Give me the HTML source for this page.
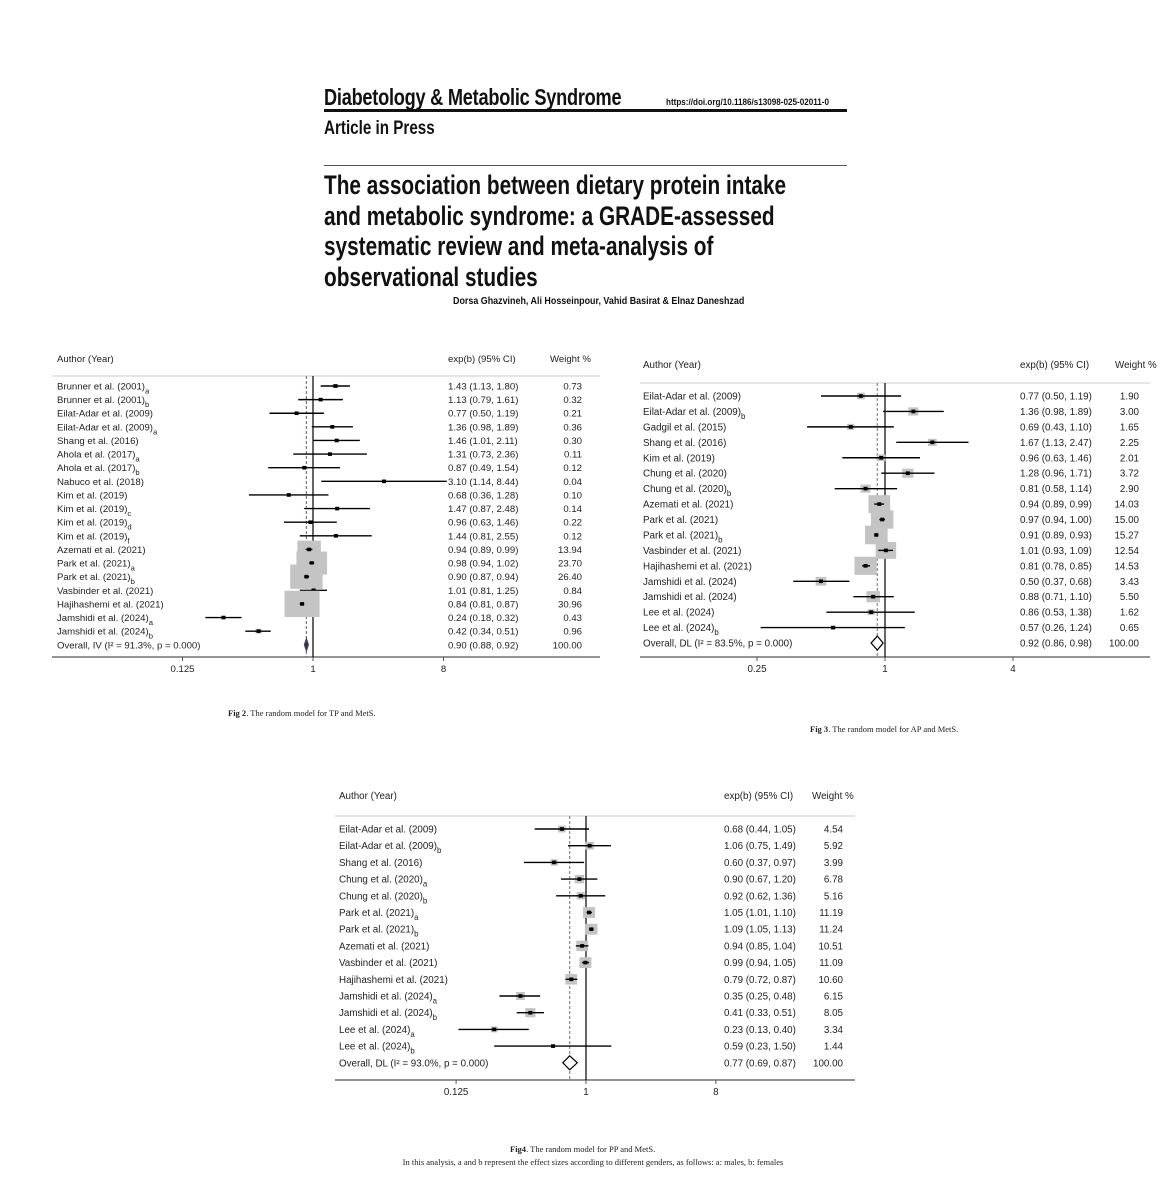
<!DOCTYPE html>
<html><head><meta charset="utf-8">
<style>
html,body{margin:0;padding:0;background:#fff;}
body{width:1171px;height:1200px;position:relative;overflow:hidden;font-family:"Liberation Sans",sans-serif;}
.h{position:absolute;white-space:nowrap;font-weight:bold;color:#111;transform-origin:0 0;}
svg{position:absolute;left:0;top:0;}
</style></head><body>
<div class="h" style="left:324px;top:84px;font-size:23px;transform:scaleX(0.79);letter-spacing:-0.3px;">Diabetology &amp; Metabolic Syndrome</div>
<div class="h" style="left:666px;top:97px;font-size:9px;transform:scaleX(0.9);">https://doi.org/10.1186/s13098-025-02011-0</div>
<div style="position:absolute;left:324px;top:109px;width:523px;height:3px;background:#111;"></div>
<div class="h" style="left:324px;top:118px;font-size:19px;transform:scaleX(0.8);">Article in Press</div>
<div style="position:absolute;left:324px;top:165px;width:523px;height:1px;background:#555;"></div>
<div class="h" style="left:324px;top:170px;font-size:27px;line-height:30.7px;transform:scaleX(0.77);">The association between dietary protein intake<br>and metabolic syndrome: a GRADE-assessed<br>systematic review and meta-analysis of<br>observational studies</div>
<div class="h" style="left:453px;top:295px;font-size:10.5px;transform:scaleX(0.85);">Dorsa Ghazvineh, Ali Hosseinpour, Vahid Basirat &amp; Elnaz Daneshzad</div>
<svg id="s" width="1171" height="1200" xmlns="http://www.w3.org/2000/svg" font-family="Liberation Sans, sans-serif"></svg>
<script>
var NS="http://www.w3.org/2000/svg",S=document.getElementById("s");
function el(t,a,txt){var e=document.createElementNS(NS,t);for(var k in a)e.setAttribute(k,a[k]);if(txt!==undefined)e.textContent=txt;S.appendChild(e);return e;}
function L(x1,y1,x2,y2,c,w,d){var a={x1:x1,y1:y1,x2:x2,y2:y2,stroke:c||"#000","stroke-width":w||1};if(d)a["stroke-dasharray"]=d;el("line",a);}
function T(x,y,s,fs,anc,extra){var a={x:x,y:y,"font-size":fs,fill:"#222"};if(anc)a["text-anchor"]=anc;for(var k in extra)a[k]=extra[k];return el("text",a,s);}
function plot(c){
 T(c.lx,c.hy,"Author (Year)",c.fs);T(c.cix,c.hy,c.cih,c.fs);T(c.wh,c.hy,"Weight %",c.fs);
 L(c.x1,c.top,c.x2,c.top,"#ddd",1.5);L(c.x1,c.ax,c.x2,c.ax,"#555",1.2);
 var X=function(v){return c.cx+c.u*Math.log2(v);};
 L(c.cx,c.top,c.cx,c.ax,"#000",1.2);
 var ov=c.rows[c.rows.length-1];var oe=parseFloat(ov[2]);
 L(X(oe),c.top,X(oe),c.ax,c.dc,1.2,"3,2");
 c.ticks.forEach(function(t){L(X(t),c.ax,X(t),c.ax+4,"#555",1);T(X(t),c.ax+15,String(t),c.fs,"middle");});
 c.rows.forEach(function(r,i){
  var y=c.y0+i*c.dy;var m=r[2].match(/([\d.]+) \(([\d.]+), ([\d.]+)\)/);var e=+m[1],lo=+m[2],hi=+m[3];
  var t=T(c.lx,y+3.5,r[0],c.fs);
  if(r[1]){var ts=el("tspan",{dy:4,"font-size":c.fs*0.8},r[1]);t.appendChild(ts);}
  T(c.cix,y+3.5,r[2],c.fs);T(c.wr,y+3.5,r[3],c.fs,"end");
  if(i==c.rows.length-1){
   var xe=X(e),xl=X(lo),xh=X(hi);
   if(c.dw){xl=xe-c.dw/2;xh=xe+c.dw/2;}
   el("polygon",{points:xl+","+y+" "+xe+","+(y-c.dh/2)+" "+xh+","+y+" "+xe+","+(y+c.dh/2),fill:c.dfill,stroke:c.dstroke,"stroke-width":1.2});
   return;}
  var w=+r[3];var bw=c.k*Math.sqrt(w),bh=bw*c.asp;
  if(bw>3)el("rect",{x:X(e)-bw/2,y:y-bh/2,width:bw,height:bh,fill:"#c4c4c4"});
  L(X(lo),y,X(hi),y,"#000",1.4);
  el("rect",{x:X(e)-2,y:y-1.8,width:4,height:3.6,fill:"#000"});
 });
}
plot({lx:57,hy:362,fs:9.6,cih:"exp(b) (95% CI)",cix:448,wr:582,wh:550,x1:52,x2:600,top:376,ax:657,cx:313,u:43.5,ticks:[0.125,1,8],y0:386,dy:13.62,k:6.3,asp:0.75,dc:"#8a6a8a",dw:4,dh:12,dfill:"#334",dstroke:"#446",
rows:[["Brunner et al. (2001)","a","1.43 (1.13, 1.80)","0.73"],["Brunner et al. (2001)","b","1.13 (0.79, 1.61)","0.32"],["Eilat-Adar et al. (2009)","","0.77 (0.50, 1.19)","0.21"],["Eilat-Adar et al. (2009)","a","1.36 (0.98, 1.89)","0.36"],["Shang et al. (2016)","","1.46 (1.01, 2.11)","0.30"],["Ahola et al. (2017)","a","1.31 (0.73, 2.36)","0.11"],["Ahola et al. (2017)","b","0.87 (0.49, 1.54)","0.12"],["Nabuco et al. (2018)","","3.10 (1.14, 8.44)","0.04"],["Kim et al. (2019)","","0.68 (0.36, 1.28)","0.10"],["Kim et al. (2019)","c","1.47 (0.87, 2.48)","0.14"],["Kim et al. (2019)","d","0.96 (0.63, 1.46)","0.22"],["Kim et al. (2019)","f","1.44 (0.81, 2.55)","0.12"],["Azemati et al. (2021)","","0.94 (0.89, 0.99)","13.94"],["Park et al. (2021)","a","0.98 (0.94, 1.02)","23.70"],["Park et al. (2021)","b","0.90 (0.87, 0.94)","26.40"],["Vasbinder et al. (2021)","","1.01 (0.81, 1.25)","0.84"],["Hajihashemi et al. (2021)","","0.84 (0.81, 0.87)","30.96"],["Jamshidi et al.  (2024)","a","0.24 (0.18, 0.32)","0.43"],["Jamshidi et al.  (2024)","b","0.42 (0.34, 0.51)","0.96"],["Overall, IV (I\u00B2 = 91.3%, p = 0.000)","","0.90 (0.88, 0.92)","100.00"]]});
plot({lx:643,hy:368,fs:9.8,cih:"exp(b) (95% CI)",cix:1020,wr:1139,wh:1115,x1:640,x2:1150,top:383,ax:657,cx:885,u:64,ticks:[0.25,1,4],y0:396,dy:15.44,k:5.8,asp:0.82,dc:"#888",dh:14,dfill:"#fff",dstroke:"#000",
rows:[["Eilat-Adar et al. (2009)","","0.77 (0.50, 1.19)","1.90"],["Eilat-Adar et al. (2009)","b","1.36 (0.98, 1.89)","3.00"],["Gadgil et al. (2015)","","0.69 (0.43, 1.10)","1.65"],["Shang et al. (2016)","","1.67 (1.13, 2.47)","2.25"],["Kim et al. (2019)","","0.96 (0.63, 1.46)","2.01"],["Chung et al. (2020)","","1.28 (0.96, 1.71)","3.72"],["Chung et al. (2020)","b","0.81 (0.58, 1.14)","2.90"],["Azemati et al. (2021)","","0.94 (0.89, 0.99)","14.03"],["Park et al. (2021)","","0.97 (0.94, 1.00)","15.00"],["Park et al. (2021)","b","0.91 (0.89, 0.93)","15.27"],["Vasbinder et al. (2021)","","1.01 (0.93, 1.09)","12.54"],["Hajihashemi et al. (2021)","","0.81 (0.78, 0.85)","14.53"],["Jamshidi et al.  (2024)","","0.50 (0.37, 0.68)","3.43"],["Jamshidi et al.  (2024)","","0.88 (0.71, 1.10)","5.50"],["Lee et al. (2024)","","0.86 (0.53, 1.38)","1.62"],["Lee et al. (2024)","b","0.57 (0.26, 1.24)","0.65"],["Overall, DL (I\u00B2 = 83.5%, p = 0.000)","","0.92 (0.86, 0.98)","100.00"]]});
plot({lx:339,hy:799,fs:9.8,cih:"exp(b) (95% CI)",cix:724,wr:843,wh:812,x1:335,x2:855,top:816,ax:1080,cx:586,u:43.3,ticks:[0.125,1,8],y0:829,dy:16.7,k:3.6,asp:0.9,dc:"#888",dh:14,dfill:"#fff",dstroke:"#000",
rows:[["Eilat-Adar et al. (2009)","","0.68 (0.44, 1.05)","4.54"],["Eilat-Adar et al. (2009)","b","1.06 (0.75, 1.49)","5.92"],["Shang et al. (2016)","","0.60 (0.37, 0.97)","3.99"],["Chung et al. (2020)","a","0.90 (0.67, 1.20)","6.78"],["Chung et al. (2020)","b","0.92 (0.62, 1.36)","5.16"],["Park et al. (2021)","a","1.05 (1.01, 1.10)","11.19"],["Park et al. (2021)","b","1.09 (1.05, 1.13)","11.24"],["Azemati et al. (2021)","","0.94 (0.85, 1.04)","10.51"],["Vasbinder et al. (2021)","","0.99 (0.94, 1.05)","11.09"],["Hajihashemi et al. (2021)","","0.79 (0.72, 0.87)","10.60"],["Jamshidi et al.  (2024)","a","0.35 (0.25, 0.48)","6.15"],["Jamshidi et al.  (2024)","b","0.41 (0.33, 0.51)","8.05"],["Lee et al. (2024)","a","0.23 (0.13, 0.40)","3.34"],["Lee et al. (2024)","b","0.59 (0.23, 1.50)","1.44"],["Overall, DL (I\u00B2 = 93.0%, p = 0.000)","","0.77 (0.69, 0.87)","100.00"]]});
var sf={"font-family":"Liberation Serif, serif"};
var t=T(228,716,"",8.5,null,sf);t.innerHTML='<tspan font-weight="bold">Fig 2</tspan>. The random model for TP and MetS.';
t=T(810,732,"",8.5,null,sf);t.innerHTML='<tspan font-weight="bold">Fig 3</tspan>. The random model for AP and MetS.';
t=T(510,1152,"",8.5,null,sf);t.innerHTML='<tspan font-weight="bold">Fig4</tspan>. The random model for PP and MetS.';
T(593,1165,"In this analysis, a and b represent the effect sizes according to different genders, as follows: a: males, b: females",8.5,"middle",sf);
</script>
</body></html>
